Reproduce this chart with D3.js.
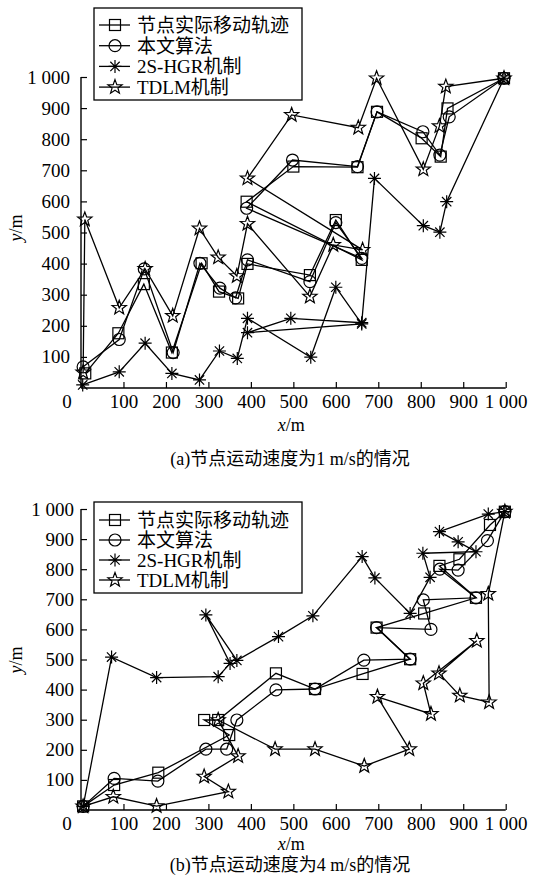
<!DOCTYPE html>
<html>
<head>
<meta charset="utf-8">
<script src="https://cdn.jsdelivr.net/npm/d3@7"></script>
<style>
  body { margin: 0; background: #fff; }
  svg { display: block; }
</style>
</head>
<body>
<svg id="chart" width="533" height="884"></svg>
<script>
// Series names shown in both legends
const seriesNames = ["节点实际移动轨迹", "本文算法", "2S-HGR机制", "TDLM机制"];
const markerKinds = ["square", "circle", "asterisk", "star"];

// Axis ticks (both axes, both panels)
const tickValues = [100, 200, 300, 400, 500, 600, 700, 800, 900, 1000];
const tickLabels = ["100", "200", "300", "400", "500", "600", "700", "800", "900", "1 000"];

// Panel (a): node speed 1 m/s, positions in metres [x, y]
const aActual = [[10,47],[88,176],[148,334],[214,114],[284,401],[325,310],[370,288],[392,399],[539,363],[600,540],[661,412],[390,599],[500,712],[651,710],[697,888],[802,803],[847,744],[863,899],[996,996]];
const aProposed = [[5,68],[90,156],[149,383],[217,114],[280,401],[327,321],[364,290],[392,412],[539,342],[600,532],[661,417],[390,578],[498,733],[651,712],[697,888],[805,824],[845,749],[867,872],[996,996]];
const aHGR = [[4,10],[90,52],[151,144],[214,47],[279,26],[326,119],[368,95],[392,224],[541,99],[600,324],[661,206],[392,178],[494,224],[661,210],[691,674],[806,522],[845,501],[861,599],[996,996]];
const aTDLM = [[5,50],[9,542],[90,258],[151,383],[216,232],[279,513],[323,420],[367,360],[392,528],[539,294],[594,460],[663,444],[392,674],[496,878],[653,837],[696,996],[806,703],[844,842],[859,969],[996,996]];

// Panel (b): node speed 4 m/s
const bActual = [[5,12],[78,83],[182,124],[349,249],[290,299],[323,299],[459,454],[551,402],[663,452],[775,501],[696,606],[808,653],[930,705],[844,811],[891,833],[963,947],[998,991]];
const bProposed = [[5,12],[78,105],[181,96],[294,202],[343,202],[367,299],[459,399],[551,402],[666,498],[775,501],[696,606],[824,600],[806,698],[930,705],[845,800],[888,797],[957,895],[998,991]];
const bHGR = [[5,12],[72,508],[178,440],[323,443],[351,487],[294,648],[367,497],[465,576],[546,645],[662,842],[692,771],[775,653],[822,773],[805,853],[930,858],[888,891],[844,925],[959,983],[998,991]];
const bTDLM = [[5,12],[76,44],[178,13],[347,61],[290,111],[370,179],[323,299],[457,202],[551,202],[667,146],[773,202],[698,376],[824,319],[806,421],[932,562],[843,454],[892,380],[961,358],[959,718],[998,991]];

const LATIN = "'Liberation Serif', 'Noto Sans CJK SC', serif";
const svg = d3.select("#chart");

// Draws one marker glyph centred at (cx, cy)
function drawMarker(g, kind, cx, cy) {
  const st = { stroke: "#000", "stroke-width": 1.2, fill: "none" };
  let m;
  if (kind === "square") {
    m = g.append("rect").attr("x", cx - 5.5).attr("y", cy - 5.5).attr("width", 11).attr("height", 11);
  } else if (kind === "circle") {
    m = g.append("circle").attr("cx", cx).attr("cy", cy).attr("r", 6);
  } else if (kind === "asterisk") {
    const r = 6.5, d = r * 0.72;
    const p = `M${cx-r},${cy}L${cx+r},${cy}M${cx},${cy-r}L${cx},${cy+r}` +
              `M${cx-d},${cy-d}L${cx+d},${cy+d}M${cx-d},${cy+d}L${cx+d},${cy-d}`;
    m = g.append("path").attr("d", p);
  } else {
    const pts = [];
    for (let i = 0; i < 10; i++) {
      const rr = i % 2 === 0 ? 7.5 : 3.1;
      const a = -Math.PI / 2 + i * Math.PI / 5;
      pts.push([cx + rr * Math.cos(a), cy + rr * Math.sin(a)]);
    }
    m = g.append("path").attr("d", "M" + pts.map(p => p.join(",")).join("L") + "Z");
  }
  Object.entries(st).forEach(([k, v]) => m.attr(k, v));
}

function drawPanel(cfg) {
  const g = svg.append("g");
  const x = d3.scaleLinear().domain([0, 1000]).range([cfg.left, cfg.right]);
  const y = d3.scaleLinear().domain([0, 1000]).range([cfg.bottom, cfg.top]);

  // Axes: ticks point inward
  const xAxis = d3.axisBottom(x).tickValues(tickValues).tickSize(-6).tickPadding(7)
    .tickFormat((d, i) => tickLabels[i]);
  const yAxis = d3.axisLeft(y).tickValues(tickValues).tickSize(-6).tickPadding(cfg.yPad)
    .tickFormat((d, i) => tickLabels[i]);

  const gx = g.append("g").attr("transform", `translate(0,${cfg.bottom})`).call(xAxis);
  const gy = g.append("g").attr("transform", `translate(${cfg.left},0)`).call(yAxis);
  [gx, gy].forEach(a => {
    a.select(".domain").attr("stroke", "#000").attr("stroke-width", 1.4)
      .attr("d", a === gx ? `M${cfg.left},0H${cfg.right}` : `M0,${cfg.bottom}V${cfg.top}`);
    a.selectAll(".tick line").attr("stroke", "#000").attr("stroke-width", 1.2);
    a.selectAll(".tick text").attr("fill", "#000").style("font-family", LATIN).style("font-size", "19px");
  });
  gx.selectAll(".tick text").attr("y", 7).attr("dy", "0.71em");

  // Origin label
  g.append("text").attr("x", cfg.left - 14).attr("y", cfg.bottom + 20)
    .attr("text-anchor", "middle").style("font-family", LATIN).style("font-size", "19px").text("0");

  // Axis titles
  const xt = g.append("text").attr("x", (cfg.left + cfg.right) / 2 - 2).attr("y", cfg.bottom + cfg.xTitleDy)
    .attr("text-anchor", "middle").style("font-family", LATIN).style("font-size", "18px");
  xt.append("tspan").style("font-style", "italic").text("x");
  xt.append("tspan").text("/m");
  const yt = g.append("text").attr("transform", `translate(22,${cfg.yTitleY}) rotate(-90)`)
    .attr("text-anchor", "middle").style("font-family", LATIN).style("font-size", "18px");
  yt.append("tspan").style("font-style", "italic").text("y");
  yt.append("tspan").text("/m");

  // Trajectories
  const line = d3.line().x(d => x(d[0])).y(d => y(d[1]));
  cfg.series.forEach((data, i) => {
    g.append("path").datum(data).attr("d", line)
      .attr("fill", "none").attr("stroke", "#000").attr("stroke-width", 1.3);
    data.forEach(d => drawMarker(g, markerKinds[i], x(d[0]), y(d[1])));
  });

  // Legend
  const lg = g.append("g");
  lg.append("rect").attr("x", cfg.legend.x).attr("y", cfg.legend.y)
    .attr("width", cfg.legend.w).attr("height", cfg.legend.h)
    .attr("fill", "#fff").attr("stroke", "#000").attr("stroke-width", 1.3);
  seriesNames.forEach((name, i) => {
    const ry = cfg.legend.y + cfg.legend.row0 + i * cfg.legend.step;
    lg.append("line").attr("x1", cfg.legend.x + 5).attr("x2", cfg.legend.x + 36)
      .attr("y1", ry).attr("y2", ry).attr("stroke", "#000").attr("stroke-width", 1.3);
    drawMarker(lg, markerKinds[i], cfg.legend.x + 21, ry);
    lg.append("text").attr("x", cfg.legend.x + 43).attr("y", ry).attr("dy", "0.36em")
      .style("font-family", LATIN).style("font-size", "19px").text(name);
  });

  // Caption
  g.append("text").attr("x", 290).attr("y", cfg.captionY).attr("text-anchor", "middle")
    .style("font-family", LATIN).style("font-size", "18px").text(cfg.caption);
}

drawPanel({
  left: 81, right: 505.7, top: 77, bottom: 388, yPad: 11, yTitleY: 228, xTitleDy: 43,
  series: [aActual, aProposed, aHGR, aTDLM],
  legend: { x: 94, y: 8, w: 208, h: 92, row0: 17, step: 20.7 },
  caption: "(a)节点运动速度为1 m/s的情况", captionY: 465
});

drawPanel({
  left: 81, right: 505.7, top: 509, bottom: 810, yPad: 7, yTitleY: 660, xTitleDy: 40,
  series: [bActual, bProposed, bHGR, bTDLM],
  legend: { x: 94, y: 502, w: 208, h: 91, row0: 18, step: 20 },
  caption: "(b)节点运动速度为4 m/s的情况", captionY: 871
});
</script>
</body>
</html>
